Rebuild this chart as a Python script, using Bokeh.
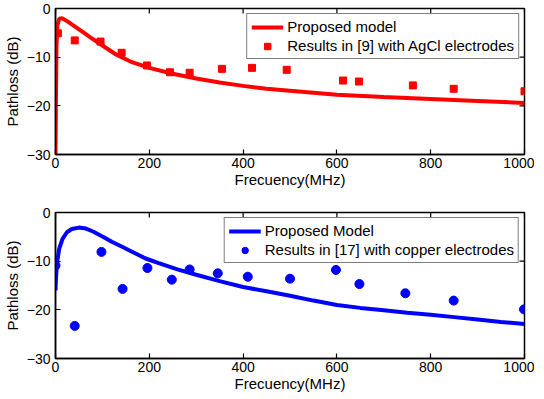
import math
from bokeh.plotting import figure
from bokeh.layouts import column
from bokeh.models import Range1d, FixedTicker
from bokeh.embed import file_html
from bokeh.resources import INLINE

# ---- data ----
x_min, x_max = 0, 1000
y_min, y_max = -30, 0
x_ticks = [0, 200, 400, 600, 800, 1000]
y_ticks = [-30, -20, -10, 0]
y_tick_labels = {-30: "\u221230", -20: "\u221220", -10: "\u221210", 0: "0"}

freq_model_top = [0, 1, 2, 4, 8, 14, 25, 40, 55, 75, 100, 130, 160, 200, 250, 300,
                  350, 400, 450, 500, 600, 700, 800, 900, 1000]
loss_model_top = [-30, -18, -8, -3.5, -2.1, -2.0, -2.6, -3.6, -4.6, -6.0, -7.6, -9.5,
                  -10.9, -12.2, -13.4, -14.4, -15.2, -15.9, -16.5, -16.9, -17.7, -18.2,
                  -18.6, -19.0, -19.4]
freq_meas_top = [5, 41, 96, 141, 195, 244, 286, 355, 419, 493, 613, 647, 762, 849, 1000]
loss_meas_top = [-5.1, -6.55, -6.8, -9.1, -11.7, -13.1, -13.2, -12.4, -12.2, -12.6,
                 -14.8, -15.0, -15.8, -16.5, -17.0]

freq_model_bot = [0, 1, 3, 8, 15, 25, 35, 50, 65, 80, 105, 120, 141, 160, 191, 220,
                  260, 300, 350, 400, 450, 500, 550, 600, 650, 700, 750, 800, 850, 900,
                  950, 1000]
loss_model_bot = [-16, -13.5, -10.5, -7.4, -5.4, -4.0, -3.4, -3.1, -3.3, -3.9, -5.2,
                  -6.0, -7.0, -7.9, -9.4, -10.4, -11.7, -12.8, -14.1, -15.3, -16.2,
                  -17.1, -18.1, -19.0, -19.6, -20.1, -20.6, -21.0, -21.5, -22.0, -22.5,
                  -22.9]
freq_meas_bot = [0, 41, 98, 143, 196, 248, 286, 346, 410, 500, 598, 648, 746, 849, 999]
loss_meas_bot = [-10.9, -23.3, -8.1, -15.7, -11.4, -13.8, -11.7, -12.5, -13.2, -13.6,
                 -11.8, -14.7, -16.6, -18.1, -19.9]

FONT = "Liberation Sans"


def make_fig(top_border, bottom_border):
    p = figure(frame_width=469, frame_height=146, output_backend="svg",
               toolbar_location=None, x_range=Range1d(x_min, x_max),
               y_range=Range1d(y_min, y_max),
               min_border_left=51, min_border_right=10,
               min_border_top=top_border, min_border_bottom=bottom_border)
    p.xgrid.visible = False
    p.ygrid.visible = False
    p.outline_line_color = "black"
    p.outline_line_width = 1.5
    p.background_fill_color = "white"
    p.border_fill_color = "white"
    for ax in (p.xaxis[0], p.yaxis[0]):
        ax.major_tick_in = 5
        ax.major_tick_out = 0
        ax.minor_tick_in = 0
        ax.minor_tick_out = 0
        ax.axis_line_width = 1.5
        ax.major_tick_line_width = 1.2
        ax.major_label_text_font = FONT
        ax.major_label_text_font_size = "14px"
        ax.major_label_text_color = "black"
        ax.axis_label_text_font = FONT
        ax.axis_label_text_font_size = "15px"
        ax.axis_label_text_font_style = "normal"
        ax.axis_label_text_color = "black"
    p.xaxis[0].ticker = FixedTicker(ticks=x_ticks)
    p.yaxis[0].ticker = FixedTicker(ticks=y_ticks)
    p.yaxis[0].major_label_overrides = y_tick_labels
    p.xaxis[0].axis_label = "Frecuency(MHz)"
    p.yaxis[0].axis_label = "Pathloss (dB)"
    p.xaxis[0].major_label_standoff = 3
    p.xaxis[0].axis_label_standoff = 0
    p.yaxis[0].major_label_standoff = 5
    p.yaxis[0].axis_label_standoff = 3
    # mirrored inward ticks on the top and right frame edges (clipped to the frame)
    p.scatter(x_ticks, [y_max] * len(x_ticks), marker="dash", size=10,
              angle=math.pi / 2, line_color="black", line_width=1.2)
    p.scatter([x_max] * len(y_ticks), y_ticks, marker="dash", size=10,
              line_color="black", line_width=1.2)
    return p


p1 = make_fig(8, 50)
p1.line(freq_model_top, loss_model_top, line_color="#ff0000", line_width=4,
        legend_label="Proposed model")
p1.scatter(freq_meas_top, loss_meas_top, marker="square", size=7, fill_color="#ff0000",
           line_color="#ff0000", legend_label="Results in [9] with AgCl electrodes")

p2 = make_fig(8, 0)
p2.line(freq_model_bot, loss_model_bot, line_color="#0000ff", line_width=4,
        legend_label="Proposed Model")
p2.scatter(freq_meas_bot, loss_meas_bot, marker="circle", size=9, fill_color="#0000ff",
           line_color="#0000ff", legend_label="Results in [17] with copper electrodes")

for p in (p1, p2):
    lg = p.legend[0]
    lg.location = "top_right"
    lg.margin = 5
    lg.padding = 4
    lg.spacing = 2
    lg.glyph_width = 32
    lg.glyph_height = 16
    lg.label_height = 16
    lg.label_standoff = 4
    lg.label_text_font = FONT
    lg.label_text_font_size = "15px"
    lg.label_text_color = "black"
    lg.border_line_color = "black"
    lg.border_line_width = 1
    lg.background_fill_alpha = 1.0

layout = column(p1, p2, spacing=0)
open("out.html", "w").write(file_html(layout, INLINE))
